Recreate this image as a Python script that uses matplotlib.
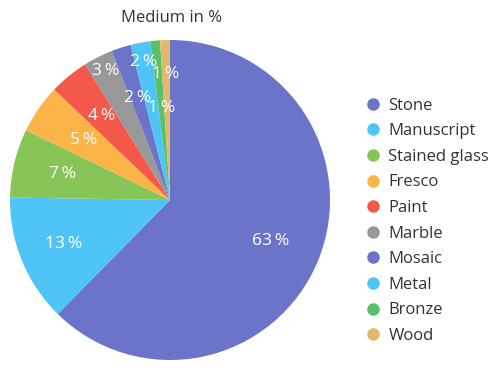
import matplotlib.pyplot as plt
from matplotlib.lines import Line2D
import numpy as np

plt.rcParams['font.family'] = ['Open Sans', 'DejaVu Sans']

# Data
media = ['Stone', 'Manuscript', 'Stained glass', 'Fresco', 'Paint', 'Marble',
         'Mosaic', 'Metal', 'Bronze', 'Wood']
shares = [63, 13, 7, 5, 4, 3, 2, 2, 1, 1]
colors = ['#6b74c8', '#4fc4f6', '#88c557', '#fbb448', '#f4584a', '#989898',
          '#6b74c8', '#4fc4f6', '#5cbf6a', '#e2b86a']
# label distance from centre (fraction of radius)
label_r = [0.68, 0.72, 0.69, 0.66, 0.68, 0.90, 0.67, 0.88, 0.58, 0.79]

fig = plt.figure(figsize=(4.92, 3.74), dpi=100)
ax = fig.add_axes([10 / 492, 14 / 374, 320 / 492, 320 / 374])

wedges, _ = ax.pie(shares, colors=colors, startangle=90, counterclock=False,
                   wedgeprops=dict(linewidth=0))
for w, v, r in zip(wedges, shares, label_r):
    ang = np.deg2rad((w.theta1 + w.theta2) / 2)
    ax.text(r * np.cos(ang), r * np.sin(ang), f'{v}\u2009%', ha='center',
            va='center', color='white', fontsize=12.5)
ax.set_xlim(-1, 1)
ax.set_ylim(-1, 1)
ax.set_aspect('equal')

fig.text(172 / 492, 1 - 18 / 374, 'Medium in %', ha='center', va='center',
         fontsize=12, color='#333333')

handles = [Line2D([], [], marker='o', linestyle='', markersize=8,
                  markerfacecolor=c, markeredgecolor=c) for c in colors]
fig.legend(handles, media, loc='upper left', bbox_to_anchor=(356 / 492, 1 - 91 / 374),
           frameon=False, fontsize=12, handletextpad=0.35, labelspacing=0.575,
           handlelength=1.2, labelcolor='#333333', borderaxespad=0)

plt.savefig('out.png', dpi=100)
plt.close()
